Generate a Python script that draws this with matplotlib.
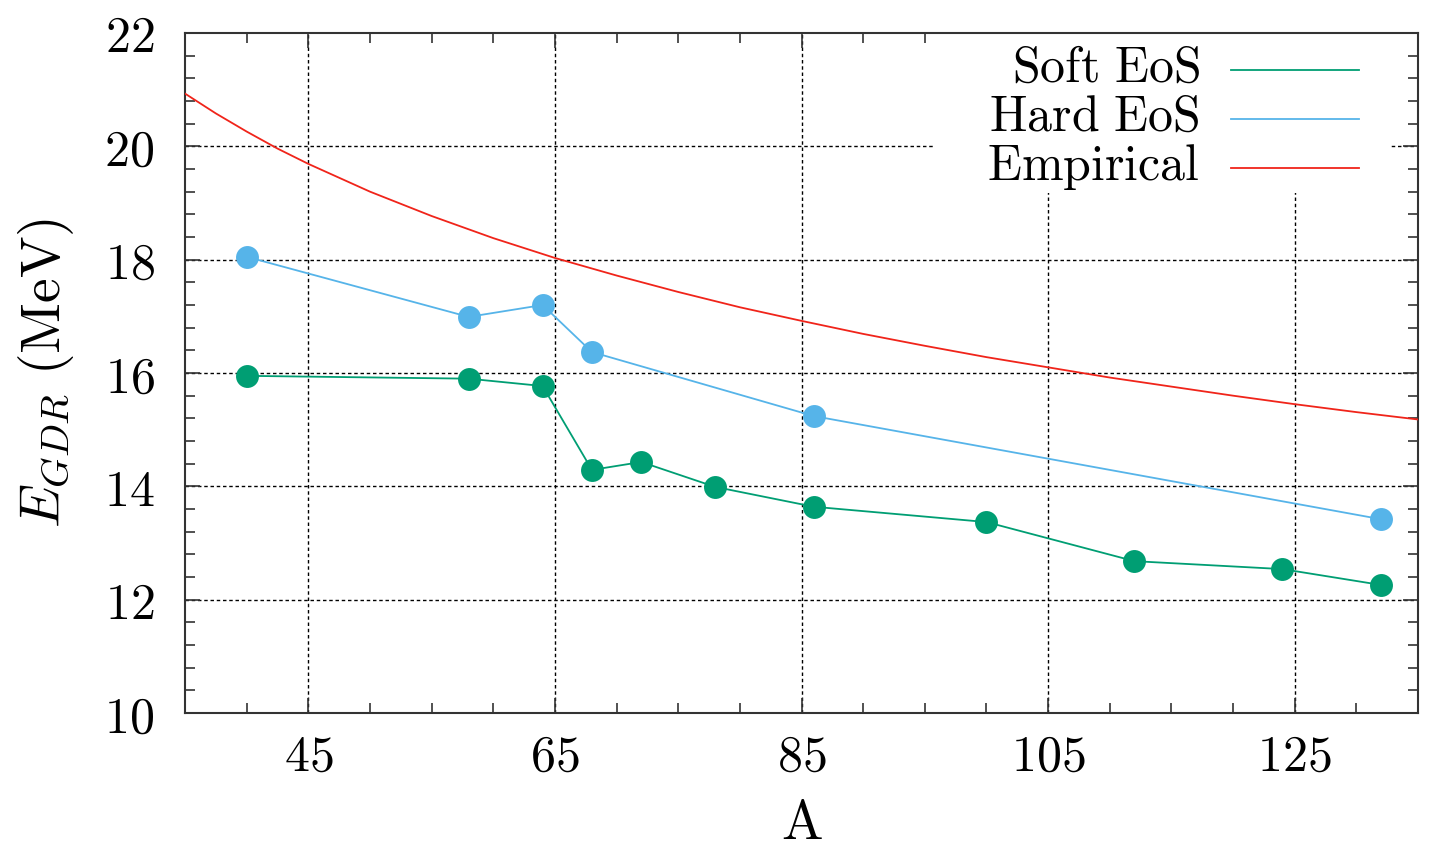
import matplotlib
matplotlib.use("Agg")
import matplotlib.pyplot as plt
from matplotlib.patches import Rectangle
from matplotlib.ticker import MultipleLocator

plt.rcParams['mathtext.fontset'] = 'cm'
plt.rcParams['font.family'] = ['DejaVu Serif']

# ---- data ----
soft_A = [40, 58, 64, 68, 72, 78, 86, 100, 112, 124, 132]
soft_E = [15.95, 15.90, 15.77, 14.29, 14.43, 13.99, 13.64, 13.37, 12.68, 12.54, 12.26]

hard_A = [40, 58, 64, 68, 86, 132]
hard_E = [18.05, 16.99, 17.20, 16.37, 15.24, 13.42]

emp_A = [35, 37.5, 40, 42.5, 45, 50, 55, 60, 65, 70, 75, 80, 85, 90, 95, 100, 105, 110,
         115, 120, 125, 130, 135]
emp_E = [20.93, 20.58, 20.26, 19.96, 19.69, 19.20, 18.77, 18.38, 18.03, 17.72, 17.43,
         17.16, 16.92, 16.69, 16.48, 16.28, 16.10, 15.92, 15.76, 15.60, 15.45, 15.31, 15.18]

x_ticks = [45, 65, 85, 105, 125]
y_ticks = [10, 12, 14, 16, 18, 20, 22]
legend_labels = ['Soft EoS', 'Hard EoS', 'Empirical']

c_soft = '#009E73'
c_hard = '#56B4E9'
c_emp = '#F0241A'

fig = plt.figure(figsize=(14.29, 8.52), dpi=100)
ax = fig.add_axes([0.1295, 0.1631, 0.8628, 0.7982])

ax.set_xlim(35, 135)
ax.set_ylim(10, 22)

# grid
for xv in x_ticks:
    ax.axvline(xv, color='black', lw=1.0, ls=(0, (2.5, 2.0)), zorder=1)
for yv in y_ticks[1:-1]:
    ax.axhline(yv, color='black', lw=1.0, ls=(0, (2.5, 2.0)), zorder=1)

# legend background (white box hides grid)
ax.add_patch(Rectangle((0.608, 0.765), 0.369, 0.235, transform=ax.transAxes,
                       facecolor='white', edgecolor='none', zorder=2))

ax.plot(emp_A, emp_E, color=c_emp, lw=1.3, zorder=3)
ax.plot(hard_A, hard_E, color=c_hard, lw=1.3, marker='o', ms=16.5, mew=0, zorder=4)
ax.plot(soft_A, soft_E, color=c_soft, lw=1.3, marker='o', ms=16.5, mew=0, zorder=5)

# legend
colors = [c_soft, c_hard, c_emp]
line_y = [0.946, 0.874, 0.801]
text_y = [0.928, 0.856, 0.784]
for lab, col, ly, ty in zip(legend_labels, colors, line_y, text_y):
    ax.text(0.823, ty, r'$\mathrm{' + lab.replace(' ', r'\ ') + '}$', transform=ax.transAxes,
            ha='right', va='baseline', fontsize=36, zorder=6)
    ax.plot([0.848, 0.952], [ly, ly], transform=ax.transAxes, color=col, lw=1.3, zorder=6)

# ticks
ax.set_xticks(x_ticks)
ax.set_xticklabels([r'$%d$' % v for v in x_ticks])
ax.set_yticks(y_ticks)
ax.set_yticklabels([r'$%d$' % v for v in y_ticks])
ax.xaxis.set_minor_locator(MultipleLocator(5))
ax.yaxis.set_minor_locator(MultipleLocator(0.4))
ax.tick_params(which='both', direction='in', top=True, right=True, color='#333333', width=1.2)
ax.tick_params(which='major', length=11)
ax.tick_params(which='minor', length=7)
ax.tick_params(axis='x', which='major', labelsize=36, pad=14)
ax.tick_params(axis='y', which='major', labelsize=36, pad=22)

for s in ax.spines.values():
    s.set_color('#333333')
    s.set_linewidth(1.5)

ax.set_xlabel(r'$\mathrm{A}$', fontsize=40, labelpad=10)
ax.set_ylabel(r'$E_{GDR}\ (\mathrm{MeV})$', fontsize=40, labelpad=20)

fig.savefig('out.png', dpi=100)
